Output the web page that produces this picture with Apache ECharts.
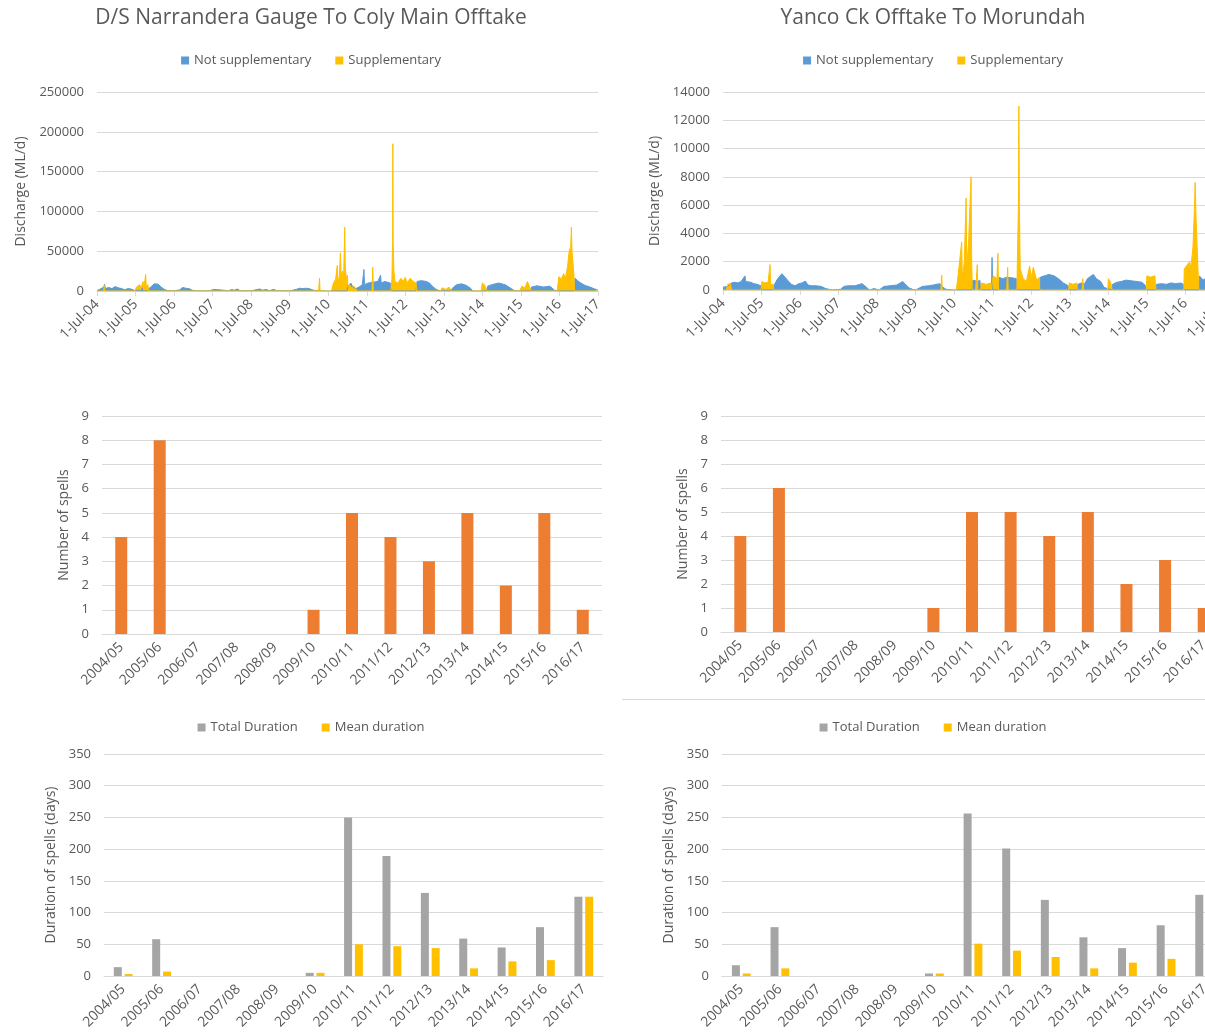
<!DOCTYPE html>
<html>
<head>
<meta charset="utf-8">
<script src="https://cdn.jsdelivr.net/npm/echarts@6/dist/echarts.min.js"></script>
<style>
html, body { margin: 0; padding: 0; background: #fff; overflow: hidden; width: 1205px; height: 1034px; }
.p { position: absolute; width: 622px; }
</style>
</head>
<body>
<div id="tl" class="p" style="left:0;top:0;height:360px"></div>
<div id="tr" class="p" style="left:622px;top:0;height:360px"></div>
<div id="ml" class="p" style="left:0;top:360px;height:340px"></div>
<div id="mr" class="p" style="left:622px;top:360px;height:340px"></div>
<div id="bl" class="p" style="left:0;top:700px;height:334px"></div>
<div id="br" class="p" style="left:622px;top:700px;height:334px"></div>
<script>
// discharge, D/S Narrandera Gauge To Coly Main Offtake (ML/d)
const narrNotSup = [
  ['2004-07-01',500],['2004-08-01',2500],['2004-09-05',5000],['2004-09-10',8500],['2004-09-20',3000],['2004-10-20',4500],['2004-11-20',3000],['2004-12-20',5500],['2005-01-20',4000],['2005-02-20',3000],['2005-03-20',1500],['2005-04-20',3000],['2005-05-20',2500],['2005-06-20',800],['2005-07-05',0],['2005-08-25',0],['2005-09-01',4000],['2005-09-08',0],['2005-10-25',0],['2005-11-05',3000],['2005-12-01',6000],['2005-12-25',9000],['2006-01-10',10500],['2006-02-01',8500],['2006-03-01',5000],['2006-04-01',2000],['2006-05-01',500],['2006-07-01',200],['2006-08-25',1500],['2006-09-20',4500],['2006-10-20',3500],['2006-11-20',3000],['2006-12-20',1000],['2007-02-01',200],['2007-06-01',200],['2007-07-10',2000],['2007-07-20',200],['2007-09-01',1500],['2007-09-10',200],['2007-12-01',300],['2008-01-01',2000],['2008-01-20',800],['2008-02-20',2500],['2008-03-20',300],['2008-07-01',200],['2008-09-20',2500],['2008-10-20',1000],['2008-11-20',2000],['2008-12-20',500],['2009-02-01',2000],['2009-03-01',300],['2009-07-01',200],['2009-09-01',2000],['2009-10-01',3500],['2009-11-01',3000],['2009-12-01',3500],['2010-01-01',3000],['2010-02-01',1500],['2010-03-01',500],['2010-07-01',0],['2010-12-25',0],['2011-01-05',6000],['2011-02-01',10000],['2011-02-20',5000],['2011-03-20',3000],['2011-04-20',5000],['2011-05-20',8000],['2011-06-05',27000],['2011-06-10',8000],['2011-07-15',10000],['2011-09-01',11000],['2011-10-15',12000],['2011-11-10',20000],['2011-11-15',10000],['2011-12-20',12000],['2012-02-10',10000],['2012-02-20',0],['2012-10-10',0],['2012-10-20',12000],['2012-12-01',13000],['2013-01-15',12000],['2013-02-15',10000],['2013-03-15',6000],['2013-04-15',2500],['2013-05-15',500],['2013-09-01',0],['2013-10-01',5000],['2013-11-01',8000],['2013-12-15',9000],['2014-02-01',7000],['2014-03-15',3000],['2014-04-01',0],['2014-08-10',0],['2014-08-20',6000],['2014-10-01',8000],['2014-12-01',10000],['2015-02-01',8000],['2015-04-01',3000],['2015-05-01',500],['2015-07-01',0],['2015-10-01',0],['2015-10-10',5000],['2015-12-01',6500],['2016-02-01',5000],['2016-04-01',6000],['2016-05-15',1000],['2016-06-20',0],['2016-11-20',0],['2016-11-25',16000],['2016-12-20',13000],['2017-01-20',10000],['2017-03-01',7000],['2017-04-15',5000],['2017-06-01',2500],['2017-07-01',1000]
];
const narrSup = [
  ['2004-07-01',0],['2004-09-01',0],['2004-09-08',7000],['2004-09-14',0],['2005-06-25',0],['2005-07-10',5000],['2005-08-10',8000],['2005-08-20',3000],['2005-09-10',12000],['2005-09-20',5000],['2005-10-05',21000],['2005-10-12',4000],['2005-10-25',8000],['2005-11-05',0],['2010-04-01',0],['2010-04-10',16000],['2010-04-15',0],['2010-08-01',0],['2010-08-20',10000],['2010-09-10',15000],['2010-09-25',32000],['2010-09-30',8000],['2010-10-15',20000],['2010-10-25',48000],['2010-11-01',20000],['2010-11-15',25000],['2010-11-25',20000],['2010-12-05',80000],['2010-12-10',30000],['2010-12-20',15000],['2010-12-30',20000],['2011-01-05',5000],['2011-01-20',8000],['2011-02-05',4000],['2011-03-01',6000],['2011-03-20',3000],['2011-04-01',0],['2011-08-20',0],['2011-08-28',30000],['2011-09-02',0],['2012-02-15',0],['2012-02-25',15000],['2012-03-02',60000],['2012-03-05',185000],['2012-03-08',60000],['2012-03-15',25000],['2012-03-25',12000],['2012-04-20',10000],['2012-05-20',16000],['2012-06-10',12000],['2012-07-01',17000],['2012-07-20',10000],['2012-08-15',16000],['2012-09-15',12000],['2012-10-10',10000],['2012-10-20',0],['2013-06-01',0],['2013-06-15',4000],['2013-07-20',2000],['2013-08-20',5000],['2013-09-10',0],['2014-06-20',0],['2014-07-01',10000],['2014-07-20',8000],['2014-08-15',0],['2015-06-20',0],['2015-07-10',6000],['2015-08-10',4000],['2015-09-01',12000],['2015-09-20',6000],['2015-10-05',0],['2016-06-10',0],['2016-06-25',18000],['2016-07-20',15000],['2016-08-10',22000],['2016-08-25',15000],['2016-09-15',30000],['2016-10-01',50000],['2016-10-15',55000],['2016-10-22',80000],['2016-10-28',50000],['2016-11-15',20000],['2016-11-22',0],['2017-07-01',0]
];
// discharge, Yanco Ck Offtake To Morundah (ML/d)
const yancoNotSup = [
  ['2004-07-01',200],['2004-08-15',250],['2004-09-20',500],['2004-10-20',550],['2004-11-20',500],['2004-12-20',600],['2005-01-25',1000],['2005-02-01',600],['2005-03-20',550],['2005-04-20',450],['2005-05-20',400],['2005-06-25',300],['2005-07-01',0],['2005-10-20',0],['2005-11-01',400],['2005-12-01',800],['2006-01-10',1150],['2006-02-10',900],['2006-03-10',650],['2006-04-10',400],['2006-05-15',300],['2006-06-20',450],['2006-07-20',500],['2006-08-20',630],['2006-09-15',350],['2006-10-20',300],['2006-12-01',300],['2007-01-20',250],['2007-03-01',100],['2007-05-01',0],['2007-07-20',50],['2007-08-20',250],['2007-10-01',300],['2007-12-01',300],['2008-02-10',450],['2008-03-20',200],['2008-04-20',0],['2008-06-01',100],['2008-07-20',0],['2008-09-01',250],['2008-11-01',300],['2009-01-01',350],['2009-03-01',600],['2009-04-01',350],['2009-05-01',150],['2009-06-01',50],['2009-07-01',0],['2009-09-01',250],['2009-11-01',300],['2009-12-15',350],['2010-02-15',450],['2010-03-15',200],['2010-04-15',50],['2010-07-01',0],['2010-12-15',0],['2010-12-25',700],['2011-02-10',600],['2011-03-01',700],['2011-03-10',0],['2011-06-20',0],['2011-06-25',2300],['2011-07-01',0],['2011-08-25',0],['2011-09-01',900],['2011-10-01',800],['2011-11-15',900],['2012-01-10',850],['2012-02-10',800],['2012-02-15',0],['2012-09-20',0],['2012-09-25',900],['2012-11-01',1000],['2012-12-15',1100],['2013-02-01',1000],['2013-03-15',800],['2013-05-01',500],['2013-06-15',300],['2013-06-20',0],['2013-09-10',0],['2013-09-15',400],['2013-10-20',500],['2013-11-15',400],['2013-12-15',800],['2014-01-20',1000],['2014-02-10',1100],['2014-03-10',800],['2014-04-20',600],['2014-05-20',200],['2014-06-20',100],['2014-06-25',0],['2014-08-05',0],['2014-08-10',400],['2014-09-20',550],['2014-11-01',600],['2014-12-15',700],['2015-02-01',650],['2015-04-01',600],['2015-05-15',550],['2015-06-20',300],['2015-06-25',0],['2015-09-25',0],['2015-10-01',400],['2015-11-15',450],['2016-01-01',400],['2016-02-15',500],['2016-04-01',450],['2016-05-20',500],['2016-06-10',400],['2016-06-15',0],['2016-11-05',0],['2016-11-10',1000],['2016-12-15',700],['2017-01-20',900],['2017-03-01',1000],['2017-05-01',800],['2017-07-01',700]
];
const yancoSup = [
  ['2004-07-01',0],['2004-08-01',0],['2004-08-15',400],['2004-09-10',450],['2004-09-20',0],['2005-06-25',0],['2005-07-05',600],['2005-08-01',500],['2005-09-01',550],['2005-09-20',1800],['2005-09-25',400],['2005-10-20',400],['2005-10-25',0],['2010-02-25',0],['2010-03-05',1050],['2010-03-10',0],['2010-07-20',0],['2010-08-01',600],['2010-09-10',3400],['2010-09-16',800],['2010-10-05',2000],['2010-10-22',6500],['2010-10-28',1500],['2010-11-15',3500],['2010-12-08',8000],['2010-12-14',2000],['2010-12-20',0],['2011-01-20',0],['2011-02-05',1800],['2011-02-10',0],['2011-03-10',0],['2011-03-15',500],['2011-05-01',400],['2011-06-15',500],['2011-06-20',0],['2011-07-01',0],['2011-07-05',1000],['2011-08-10',800],['2011-08-20',2600],['2011-08-25',0],['2011-11-10',0],['2011-11-20',1600],['2011-11-25',0],['2012-02-15',0],['2012-02-20',2000],['2012-03-01',6000],['2012-03-05',13000],['2012-03-10',6000],['2012-03-18',1500],['2012-04-15',800],['2012-05-15',600],['2012-06-15',1700],['2012-07-01',900],['2012-07-20',1600],['2012-08-20',700],['2012-09-15',900],['2012-09-20',0],['2013-06-20',0],['2013-06-25',500],['2013-08-01',400],['2013-09-05',500],['2013-09-10',0],['2013-10-25',0],['2013-11-01',800],['2013-11-10',0],['2014-06-25',0],['2014-07-01',800],['2014-07-25',500],['2014-08-05',0],['2015-06-25',0],['2015-07-01',1000],['2015-08-01',900],['2015-09-15',1000],['2015-09-25',0],['2016-06-15',0],['2016-06-20',1500],['2016-07-20',1800],['2016-08-10',2000],['2016-08-20',1500],['2016-09-10',3000],['2016-09-25',6000],['2016-10-01',7600],['2016-10-10',5000],['2016-10-30',1000],['2016-11-05',0],['2017-07-01',0]
];

const waterYears = ['2004/05','2005/06','2006/07','2007/08','2008/09','2009/10','2010/11','2011/12','2012/13','2013/14','2014/15','2015/16','2016/17'];
const narrSpells = [4, 8, 0, 0, 0, 1, 5, 4, 3, 5, 2, 5, 1];
const yancoSpells = [4, 6, 0, 0, 0, 1, 5, 5, 4, 5, 2, 3, 1];
const narrTotal = [14, 58, 0, 0, 0, 5, 250, 189, 131, 59, 45, 77, 125];
const narrMean = [3, 7, 0, 0, 0, 5, 50, 47, 44, 12, 23, 25, 125];
const yancoTotal = [17, 77, 0, 0, 0, 4, 256, 201, 120, 61, 44, 80, 128];
const yancoMean = [4, 12, 0, 0, 0, 4, 51, 40, 30, 12, 21, 27, 128];

const FONT = '"Open Sans", "Noto Sans", sans-serif';
const TX = '#595959';
const GRID = '#d9d9d9';
const BLUE = '#5b9bd5', YELLOW = '#ffc000', ORANGE = '#ed7d31', GREY = '#a5a5a5';

// x axis for discharge: days since 1-Jul-04, ticks every 365.25 d land on 1 July
const T0 = Date.UTC(2004, 6, 1);
const DAY = 864e5;
const YEAR = 365.25;
const MON = ['Jan','Feb','Mar','Apr','May','Jun','Jul','Aug','Sep','Oct','Nov','Dec'];
function dateLabel(v) {
  const d = new Date(T0 + v * DAY);
  return d.getUTCDate() + '-' + MON[d.getUTCMonth()] + '-' + String(d.getUTCFullYear()).slice(2);
}
function toXY(rows) { return rows.map(r => [(Date.parse(r[0]) - T0) / DAY, r[1]]); }

function legend(top, names) {
  return {
    top, left: 'center', data: names, icon: 'rect', itemWidth: 8, itemHeight: 8, itemGap: 24,
    textStyle: { color: TX, fontSize: 13, fontFamily: FONT },
  };
}
function yAxis(max, interval, name, nameGap) {
  return {
    type: 'value', min: 0, max, interval, name, nameLocation: 'middle', nameGap,
    nameTextStyle: { color: TX, fontSize: 14, fontFamily: FONT },
    axisLine: { show: false }, axisTick: { show: false },
    axisLabel: { color: TX, fontSize: 13, fontFamily: FONT, margin: 13, formatter: v => String(v) },
    splitLine: { lineStyle: { color: GRID, width: 1 } },
  };
}
function catAxis() {
  return {
    type: 'category', data: waterYears,
    axisLine: { lineStyle: { color: GRID } },
    axisTick: { lineStyle: { color: GRID }, length: 5 },
    axisLabel: { color: TX, fontSize: 14, fontFamily: FONT, rotate: 45, interval: 0, margin: 11 },
  };
}

function discharge(id, title, ns, sup, ymax, yint, grid, nameGap) {
  const chart = echarts.init(document.getElementById(id), null, { renderer: 'canvas' });
  const area = (name, rows, color) => ({
    name, type: 'line', data: toXY(rows), showSymbol: false, smooth: false,
    lineStyle: { color, width: 1 }, itemStyle: { color }, areaStyle: { color, opacity: 1 },
  });
  chart.setOption({
    animation: false,
    title: { text: title, left: 'center', top: 3, textStyle: { color: TX, fontSize: 21, fontWeight: 'normal', fontFamily: FONT } },
    legend: legend(49, ['Not supplementary', 'Supplementary']),
    grid,
    xAxis: {
      type: 'value', min: 0, max: 13 * YEAR, interval: YEAR,
      axisLine: { onZero: false, lineStyle: { color: GRID } },
      axisTick: { lineStyle: { color: GRID }, length: 5 },
      splitLine: { show: false },
      axisLabel: { color: TX, fontSize: 14, fontFamily: FONT, rotate: 45, margin: 11, formatter: dateLabel, showMinLabel: true, showMaxLabel: true },
    },
    yAxis: yAxis(ymax, yint, 'Discharge (ML/d)', nameGap),
    series: [area('Not supplementary', ns, BLUE), area('Supplementary', sup, YELLOW)],
  });
}

function spells(id, values, grid, extra) {
  const chart = echarts.init(document.getElementById(id), null, { renderer: 'canvas' });
  chart.setOption({
    animation: false,
    grid,
    xAxis: catAxis(),
    yAxis: yAxis(9, 1, 'Number of spells', 30),
    series: [{ type: 'bar', data: values, barWidth: 12, itemStyle: { color: ORANGE } }],
    graphic: extra || [],
  });
}

function durations(id, total, mean, grid) {
  const chart = echarts.init(document.getElementById(id), null, { renderer: 'canvas' });
  chart.setOption({
    animation: false,
    legend: legend(16, ['Total Duration', 'Mean duration']),
    grid,
    xAxis: catAxis(),
    yAxis: yAxis(350, 50, 'Duration of spells (days)', 45),
    series: [
      { name: 'Total Duration', type: 'bar', data: total, barWidth: 8, barGap: '35%', itemStyle: { color: GREY } },
      { name: 'Mean duration', type: 'bar', data: mean, barWidth: 8, barGap: '35%', itemStyle: { color: YELLOW } },
    ],
  });
}

discharge('tl', 'D/S Narrandera Gauge To Coly Main Offtake', narrNotSup, narrSup, 250000, 50000,
  { left: 97, top: 92, width: 501, height: 199 }, 69);
discharge('tr', 'Yanco Ck Offtake To Morundah', yancoNotSup, yancoSup, 14000, 2000,
  { left: 101, top: 92, width: 501, height: 198 }, 61);

spells('ml', narrSpells, { left: 102, top: 56, width: 500, height: 218 });
// border of the pasted Excel box under the right-hand spells chart
spells('mr', yancoSpells, { left: 99, top: 56, width: 502, height: 216 },
  [{ type: 'line', shape: { x1: -2, y1: 339.5, x2: 622, y2: 339.5 }, style: { stroke: GRID, lineWidth: 1 } }]);

durations('bl', narrTotal, narrMean, { left: 104, top: 54, width: 499, height: 222 });
durations('br', yancoTotal, yancoMean, { left: 100, top: 54, width: 502, height: 222 });
</script>
</body>
</html>
